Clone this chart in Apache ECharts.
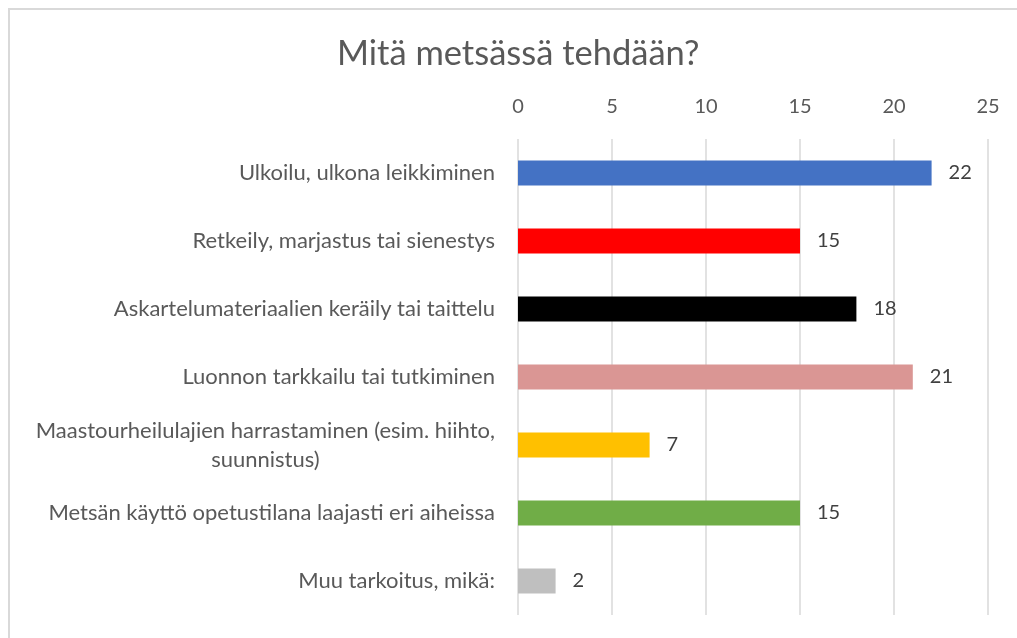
<!DOCTYPE html>
<html>
<head>
<meta charset="utf-8">
<script src="https://cdn.jsdelivr.net/npm/echarts@6/dist/echarts.min.js"></script>
<style>
  html, body { margin: 0; padding: 0; background: #fff; }
  #chart { width: 1017px; height: 638px; }
</style>
</head>
<body>
<div id="chart"></div>
<script>
const categories = [
  'Ulkoilu, ulkona leikkiminen',
  'Retkeily, marjastus tai sienestys',
  'Askartelumateriaalien keräily tai taittelu',
  'Luonnon tarkkailu tai tutkiminen',
  'Maastourheilulajien harrastaminen (esim. hiihto,\nsuunnistus)',
  'Metsän käyttö opetustilana laajasti eri aiheissa',
  'Muu tarkoitus, mikä:'
]
const values = [22, 15, 18, 21, 7, 15, 2]
const barColors = ['#4472C4', '#FF0000', '#000000', '#DA9694', '#FFC000', '#70AD47', '#BFBFBF']

const font = 'Lato'

const chart = echarts.init(document.getElementById('chart'), null, { renderer: 'canvas' })

chart.setOption({
  animation: false,
  title: {
    text: 'Mitä metsässä tehdään?',
    left: 332,
    top: 31,
    textStyle: { fontFamily: font, fontSize: 34.5, fontWeight: 'normal', color: '#595959' }
  },
  // light frame of the chart area, only top/left edges are in view
  graphic: [{
    type: 'rect',
    shape: { x: 9, y: 9, width: 1040, height: 660 },
    style: { fill: 'none', stroke: '#D9D9D9', lineWidth: 2 },
    silent: true
  }],
  grid: { left: 518, right: 29, top: 139, bottom: 23, containLabel: false },
  xAxis: {
    type: 'value',
    position: 'top',
    min: 0,
    max: 25,
    interval: 5,
    axisLine: { show: false },
    axisTick: { show: false },
    axisLabel: { fontFamily: font, fontSize: 20, color: '#595959', margin: 22 },
    splitLine: { lineStyle: { color: '#D9D9D9', width: 1.5 } }
  },
  yAxis: {
    type: 'category',
    inverse: true,
    data: categories,
    axisLine: { show: false },
    axisTick: { show: false },
    axisLabel: {
      margin: 23,
      align: 'right',
      // wrapped labels have their lines centred, like the original
      formatter: (v) => v.split('\n').map(s => '{c|' + s + '}').join('\n'),
      rich: {
        c: { fontFamily: font, fontSize: 22, color: '#595959', lineHeight: 29, align: 'center' }
      }
    }
  },
  series: [{
    type: 'bar',
    data: values.map((v, i) => ({ value: v, itemStyle: { color: barColors[i] } })),
    barWidth: 25,
    label: {
      show: true,
      position: 'right',
      distance: 17,
      fontFamily: font,
      fontSize: 20,
      color: '#404040'
    }
  }]
})
</script>
</body>
</html>
